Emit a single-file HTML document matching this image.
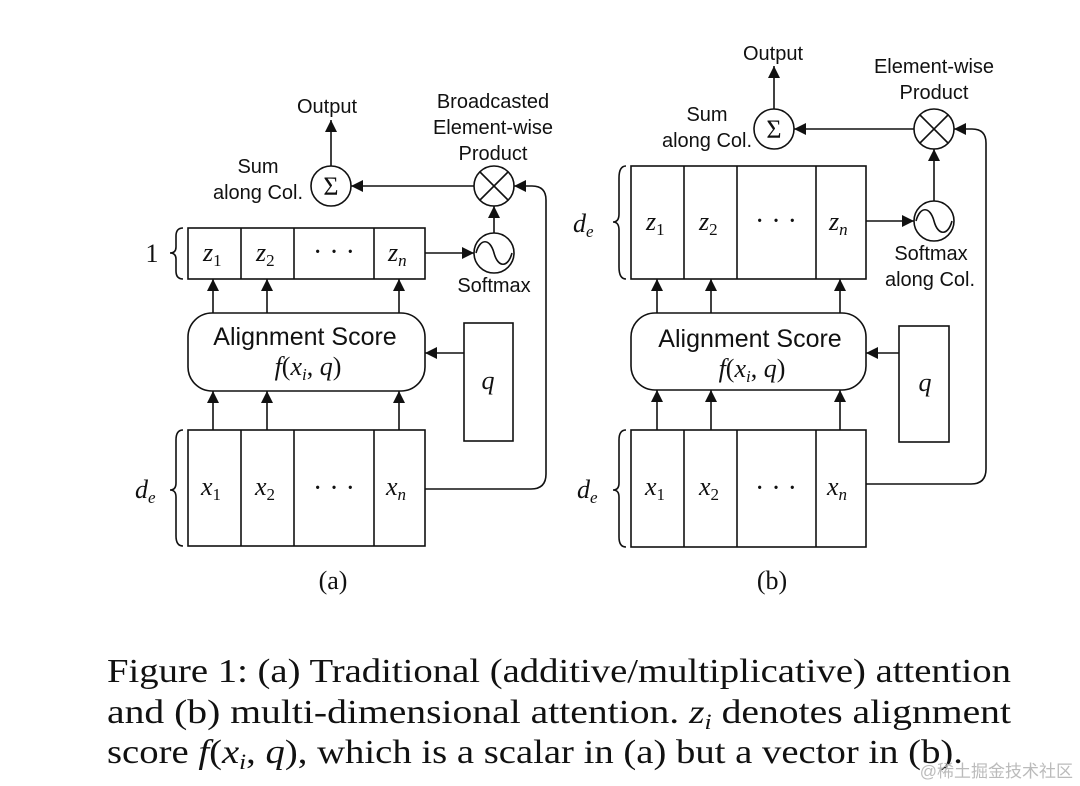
<!DOCTYPE html>
<html><head><meta charset="utf-8"><style>
html,body{margin:0;padding:0;background:#fff;}
svg{display:block;}
.s{font-family:"Liberation Sans",sans-serif;font-size:20px;fill:#111;text-anchor:middle;}
.m{font-family:"Liberation Serif",serif;font-style:italic;font-size:26px;fill:#111;}
.c{font-family:"Liberation Serif",serif;font-size:34px;fill:#111;}
</style></head><body>
<svg width="1080" height="786" viewBox="0 0 1080 786" xmlns="http://www.w3.org/2000/svg">
<defs>
<marker id="ar" viewBox="0 0 12 12" refX="12" refY="6" markerWidth="12" markerHeight="12" markerUnits="userSpaceOnUse" orient="auto">
<path d="M0,0 L12,6 L0,12 z" fill="#111"/></marker>
</defs>
<g stroke="#111" stroke-width="1.6" fill="none">
<!-- (a) -->
<rect x="188" y="228" width="237" height="51"/>
<line x1="241" y1="228" x2="241" y2="279"/><line x1="294" y1="228" x2="294" y2="279"/><line x1="374" y1="228" x2="374" y2="279"/>
<rect x="188" y="313" width="237" height="78" rx="24"/>
<rect x="188" y="430" width="237" height="116"/>
<line x1="241" y1="430" x2="241" y2="546"/><line x1="294" y1="430" x2="294" y2="546"/><line x1="374" y1="430" x2="374" y2="546"/>
<rect x="464" y="323" width="49" height="118"/>
<circle cx="331" cy="186" r="20"/>
<circle cx="494" cy="186" r="20"/>
<line x1="480" y1="172" x2="508" y2="200"/><line x1="508" y1="172" x2="480" y2="200"/>
<circle cx="494" cy="253" r="20"/>
<path d="M476,253 C480,238 490,238 494,253 C498,268 508,268 512,253"/>
<line x1="213" y1="430" x2="213" y2="391" marker-end="url(#ar)"/>
<line x1="267" y1="430" x2="267" y2="391" marker-end="url(#ar)"/>
<line x1="399" y1="430" x2="399" y2="391" marker-end="url(#ar)"/>
<line x1="213" y1="313" x2="213" y2="279" marker-end="url(#ar)"/>
<line x1="267" y1="313" x2="267" y2="279" marker-end="url(#ar)"/>
<line x1="399" y1="313" x2="399" y2="279" marker-end="url(#ar)"/>
<line x1="464" y1="353" x2="425" y2="353" marker-end="url(#ar)"/>
<line x1="425" y1="253" x2="474" y2="253" marker-end="url(#ar)"/>
<line x1="494" y1="233" x2="494" y2="206" marker-end="url(#ar)"/>
<line x1="474" y1="186" x2="351" y2="186" marker-end="url(#ar)"/>
<line x1="331" y1="166" x2="331" y2="120" marker-end="url(#ar)"/>
<path d="M425,489 L531,489 Q546,489 546,474 L546,200 Q546,186 532,186 L514,186" marker-end="url(#ar)"/>
<path d="M183,228 Q176,228 176,236 L176,247 Q176,253 170,253 Q176,253 176,259 L176,271 Q176,279 183,279"/>
<path d="M183,430 Q176,430 176,440 L176,483 Q176,490 170,490 Q176,490 176,497 L176,536 Q176,546 183,546"/>
<!-- (b) -->
<rect x="631" y="166" width="235" height="113"/>
<line x1="684" y1="166" x2="684" y2="279"/><line x1="737" y1="166" x2="737" y2="279"/><line x1="816" y1="166" x2="816" y2="279"/>
<rect x="631" y="313" width="235" height="77" rx="24"/>
<rect x="631" y="430" width="235" height="117"/>
<line x1="684" y1="430" x2="684" y2="547"/><line x1="737" y1="430" x2="737" y2="547"/><line x1="816" y1="430" x2="816" y2="547"/>
<rect x="899" y="326" width="50" height="116"/>
<circle cx="774" cy="129" r="20"/>
<circle cx="934" cy="129" r="20"/>
<line x1="920" y1="115" x2="948" y2="143"/><line x1="948" y1="115" x2="920" y2="143"/>
<circle cx="934" cy="221" r="20"/>
<path d="M916,221 C920,206 930,206 934,221 C938,236 948,236 952,221"/>
<line x1="657" y1="430" x2="657" y2="390" marker-end="url(#ar)"/>
<line x1="711" y1="430" x2="711" y2="390" marker-end="url(#ar)"/>
<line x1="840" y1="430" x2="840" y2="390" marker-end="url(#ar)"/>
<line x1="657" y1="313" x2="657" y2="279" marker-end="url(#ar)"/>
<line x1="711" y1="313" x2="711" y2="279" marker-end="url(#ar)"/>
<line x1="840" y1="313" x2="840" y2="279" marker-end="url(#ar)"/>
<line x1="899" y1="353" x2="866" y2="353" marker-end="url(#ar)"/>
<line x1="866" y1="221" x2="914" y2="221" marker-end="url(#ar)"/>
<line x1="934" y1="201" x2="934" y2="149" marker-end="url(#ar)"/>
<line x1="914" y1="129" x2="794" y2="129" marker-end="url(#ar)"/>
<line x1="774" y1="109" x2="774" y2="66" marker-end="url(#ar)"/>
<path d="M866,484 L971,484 Q986,484 986,469 L986,143 Q986,129 972,129 L954,129" marker-end="url(#ar)"/>
<path d="M626,166 Q619,166 619,178 L619,214 Q619,222 613,222 Q619,222 619,230 L619,267 Q619,279 626,279"/>
<path d="M626,430 Q619,430 619,440 L619,483 Q619,490 613,490 Q619,490 619,497 L619,537 Q619,547 626,547"/>
</g>
<!-- labels (a) -->
<text class="s" x="327" y="113">Output</text>
<text class="s" x="258" y="173">Sum</text>
<text class="s" x="258" y="199">along Col.</text>
<text class="s" x="493" y="108">Broadcasted</text>
<text class="s" x="493" y="134">Element-wise</text>
<text class="s" x="493" y="160">Product</text>
<text class="s" x="494" y="292">Softmax</text>
<text class="s" x="305" y="345" style="font-size:25px">Alignment Score</text>
<text x="308" y="375" text-anchor="middle" style="font-family:'Liberation Serif',serif;font-size:26px;fill:#111"><tspan font-style="italic">f</tspan>(<tspan font-style="italic">x</tspan><tspan font-style="italic" font-size="17" dy="5">i</tspan><tspan dy="-5">, </tspan><tspan font-style="italic">q</tspan>)</text>
<text class="m" x="488" y="389" text-anchor="middle">q</text>
<text class="m" x="203" y="261">z<tspan font-style="normal" font-size="17" dy="5">1</tspan></text>
<text class="m" x="256" y="261">z<tspan font-style="normal" font-size="17" dy="5">2</tspan></text>
<text class="m" x="388" y="261">z<tspan font-size="17" dy="5">n</tspan></text>
<text x="334" y="261" text-anchor="middle" style="font-family:'Liberation Serif',serif;font-size:28px;fill:#111">· · ·</text>
<text x="152" y="262" text-anchor="middle" style="font-family:'Liberation Serif',serif;font-size:26px;fill:#111">1</text>
<text class="m" x="201" y="495">x<tspan font-style="normal" font-size="17" dy="5">1</tspan></text>
<text class="m" x="255" y="495">x<tspan font-style="normal" font-size="17" dy="5">2</tspan></text>
<text class="m" x="386" y="495">x<tspan font-size="17" dy="5">n</tspan></text>
<text x="334" y="497" text-anchor="middle" style="font-family:'Liberation Serif',serif;font-size:28px;fill:#111">· · ·</text>
<text class="m" x="135" y="498">d<tspan font-size="17" dy="5">e</tspan></text>
<text x="333" y="589" text-anchor="middle" style="font-family:'Liberation Serif',serif;font-size:26px;fill:#111">(a)</text>
<text x="331" y="195" text-anchor="middle" style="font-family:'Liberation Serif',serif;font-size:26px;fill:#111">Σ</text>
<!-- labels (b) -->
<text class="s" x="773" y="60">Output</text>
<text class="s" x="707" y="121">Sum</text>
<text class="s" x="707" y="147">along Col.</text>
<text class="s" x="934" y="73">Element-wise</text>
<text class="s" x="934" y="99">Product</text>
<text class="s" x="931" y="260">Softmax</text>
<text class="s" x="930" y="286">along Col.</text>
<text class="s" x="750" y="347" style="font-size:25px">Alignment Score</text>
<text x="752" y="377" text-anchor="middle" style="font-family:'Liberation Serif',serif;font-size:26px;fill:#111"><tspan font-style="italic">f</tspan>(<tspan font-style="italic">x</tspan><tspan font-style="italic" font-size="17" dy="5">i</tspan><tspan dy="-5">, </tspan><tspan font-style="italic">q</tspan>)</text>
<text class="m" x="925" y="391" text-anchor="middle">q</text>
<text class="m" x="646" y="230">z<tspan font-style="normal" font-size="17" dy="5">1</tspan></text>
<text class="m" x="699" y="230">z<tspan font-style="normal" font-size="17" dy="5">2</tspan></text>
<text class="m" x="829" y="230">z<tspan font-size="17" dy="5">n</tspan></text>
<text x="776" y="230" text-anchor="middle" style="font-family:'Liberation Serif',serif;font-size:28px;fill:#111">· · ·</text>
<text class="m" x="573" y="232">d<tspan font-size="17" dy="5">e</tspan></text>
<text class="m" x="645" y="495">x<tspan font-style="normal" font-size="17" dy="5">1</tspan></text>
<text class="m" x="699" y="495">x<tspan font-style="normal" font-size="17" dy="5">2</tspan></text>
<text class="m" x="827" y="495">x<tspan font-size="17" dy="5">n</tspan></text>
<text x="776" y="497" text-anchor="middle" style="font-family:'Liberation Serif',serif;font-size:28px;fill:#111">· · ·</text>
<text class="m" x="577" y="498">d<tspan font-size="17" dy="5">e</tspan></text>
<text x="772" y="589" text-anchor="middle" style="font-family:'Liberation Serif',serif;font-size:26px;fill:#111">(b)</text>
<text x="774" y="138" text-anchor="middle" style="font-family:'Liberation Serif',serif;font-size:26px;fill:#111">Σ</text>
<!-- caption -->
<text class="c" x="107" y="682" textLength="904" lengthAdjust="spacingAndGlyphs">Figure 1: (a) Traditional (additive/multiplicative) attention</text>
<text class="c" x="107" y="723" textLength="904" lengthAdjust="spacingAndGlyphs">and (b) multi-dimensional attention. <tspan font-style="italic">z</tspan><tspan font-style="italic" font-size="22" dy="6">i</tspan><tspan dy="-6"> denotes alignment</tspan></text>
<text class="c" x="107" y="763" textLength="856" lengthAdjust="spacingAndGlyphs">score <tspan font-style="italic">f</tspan>(<tspan font-style="italic">x</tspan><tspan font-style="italic" font-size="22" dy="6">i</tspan><tspan dy="-6">, </tspan><tspan font-style="italic">q</tspan>), which is a scalar in (a) but a vector in (b).</text>
<text x="1073" y="777" text-anchor="end" style="font-family:'Liberation Sans','Noto Sans CJK SC',sans-serif;font-size:17px;fill:#bbb">@稀土掘金技术社区</text>
</svg>
</body></html>
